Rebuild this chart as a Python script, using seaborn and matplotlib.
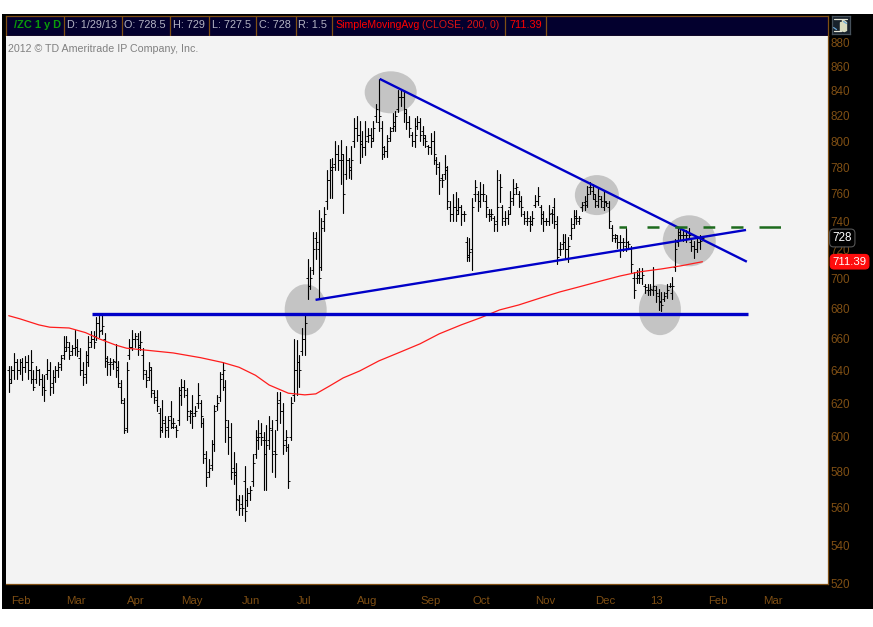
import pandas as pd
import numpy as np
import seaborn as sns
import matplotlib.pyplot as plt
from matplotlib.collections import EllipseCollection
from matplotlib.ticker import NullLocator

bar_high = [643,643,651,647,647,648,649,650,653,640,
    643,641,638,637,647,645,640,643,645,650,
    662,662,658,656,666,660,654,645,652,662,
    665,665,674,675,676,664,649,648,647,657,
    646,634,623,645,660,666,664,664,665,654,
    640,645,642,628,628,617,622,612,612,621,
    611,607,630,635,634,629,616,625,618,632,
    622,611,592,587,598,619,625,639,645,634,
    610,608,591,585,567,567,583,571,572,590,
    604,610,608,603,607,612,610,604,627,627,
    620,604,596,624,660,659,650,667,677,713,
    708,732,732,748,742,750,778,786,787,800,
    797,801,790,796,787,796,818,820,816,808,
    816,810,810,816,829,850,816,796,805,811,
    822,824,841,841,841,825,820,807,818,820,
    818,812,805,797,806,808,788,784,775,789,
    781,755,760,761,757,752,747,729,728,757,
    770,762,769,767,759,749,749,744,778,775,
    752,747,748,762,771,768,762,758,747,747,
    744,747,759,765,752,747,742,752,749,757,
    744,725,731,731,729,742,748,748,744,754,
    758,766,769,767,760,764,758,762,755,755,
    737,731,730,730,728,735,726,722,704,706,
    707,707,696,696,696,708,695,693,691,691,
    696,697,701,727,736,735,734,734,735,727,
    726,729,730,729]
bar_low = [627,632,635,635,638,634,639,635,632,628,
    632,631,625,621,635,625,626,633,636,640,
    647,652,647,650,650,649,637,631,632,643,
    655,654,659,661,663,642,637,637,641,636,
    630,620,602,603,647,653,655,650,653,635,
    630,634,624,620,615,600,603,600,600,605,
    605,600,607,619,624,610,608,605,612,617,
    606,585,572,577,581,592,616,621,628,597,
    590,576,573,559,556,556,553,561,564,572,
    588,593,595,570,570,593,580,577,604,608,
    590,592,571,598,621,625,630,650,650,686,
    693,703,713,686,706,733,749,757,757,778,
    778,767,746,771,772,771,795,800,783,788,
    789,799,795,800,815,808,786,788,788,800,
    808,808,823,828,815,809,803,796,795,809,
    800,797,795,790,790,782,775,760,765,771,
    749,740,740,740,745,737,740,712,712,706,
    755,747,750,755,743,740,741,733,733,754,
    737,737,738,745,752,760,750,744,738,737,
    733,737,750,752,738,733,737,737,739,735,
    710,716,720,713,711,727,735,738,738,747,
    748,750,760,756,750,750,750,748,751,735,
    726,725,721,715,719,719,721,704,687,697,
    697,696,690,689,689,689,684,679,678,685,
    687,694,686,705,722,727,726,725,727,719,
    714,718,720,727.5]
bar_open = [640,635,640,645,640,645,642,645,640,635,
    635,640,635,630,638,640,632,636,640,644,
    650,655,655,652,654,655,648,640,638,650,
    658,660,662,670,666,660,646,644,644,645,
    640,630,620,605,650,655,660,660,655,650,
    638,636,640,626,622,614,606,608,606,612,
    606,606,610,628,630,625,612,615,614,620,
    620,608,588,580,584,596,618,624,638,630,
    606,600,582,580,564,562,575,564,568,575,
    590,600,602,598,598,598,604,592,610,622,
    615,598,594,600,625,640,645,652,660,700,
    695,706,728,720,708,740,755,770,778,782,
    790,785,785,775,785,778,800,810,805,798,
    795,804,805,802,820,815,810,790,792,802,
    810,812,825,835,835,822,815,805,800,812,
    815,808,802,796,795,800,785,780,772,775,
    778,750,745,750,748,750,745,725,716,720,
    760,760,755,760,755,745,744,742,740,770,
    750,740,742,750,757,764,760,755,745,740,
    740,740,752,755,750,742,740,740,746,750,
    738,720,724,725,720,730,738,744,740,750,
    754,755,765,762,756,752,756,750,754,750,
    735,728,728,725,725,722,725,720,700,700,
    700,700,695,692,692,692,692,688,684,686,
    690,695,690,708,725,732,730,730,728,725,
    722,720,725,728.5]
bar_close = [632,640,645,640,645,642,645,640,645,630,
    640,635,630,628,640,630,636,640,642,648,
    652,658,650,654,655,652,640,636,645,655,
    660,658,670,665,668,648,645,645,646,642,
    632,622,604,640,655,660,662,656,658,640,
    634,642,628,624,618,604,610,604,610,608,
    608,604,625,630,628,615,614,612,615,625,
    612,590,577,582,596,615,620,635,640,610,
    600,580,578,565,560,560,558,568,570,585,
    598,600,600,590,595,605,590,590,620,615,
    595,600,575,620,640,645,640,660,670,695,
    700,720,725,700,735,745,770,780,780,790,
    785,790,760,785,780,785,810,805,800,795,
    800,805,800,810,825,820,795,792,800,808,
    815,820,835,835,825,815,810,800,805,815,
    805,805,800,795,800,790,782,770,770,780,
    755,745,750,745,750,745,745,715,718,750,
    765,755,760,760,750,745,745,738,750,765,
    742,742,745,755,760,765,755,750,742,742,
    738,742,755,758,745,740,740,745,745,740,
    715,720,725,720,722,735,742,742,742,752,
    752,760,765,760,755,758,755,755,753,740,
    730,730,725,725,725,725,724,710,692,702,
    700,702,694,692,693,695,690,685,682,688,
    692,695,695,720,730,730,730,730,730,722,
    720,725,726,728]

sma_bar = [0,4,11,15,22,28,33,39,43,51,60,70,78,84,90,95,102,108,112,117,122,128,
    135,143,150,157,165,172,179,186,194,201,208,216,223,230,238,245,253]
sma_value = [675,673,669,667.5,667,664,660,656,654,652.6,651,648,645,642,637,631,626,625,625.6,630.4,635.4,639.7,
    646,651.7,656.8,663.2,669,673.6,678.8,682.1,686.8,690.8,694.2,698.2,701.6,704.4,706.4,708.5,711.39]

price_ticks = list(range(520, 881, 20))
month_bars = [1,21,43,63,85,105,127,150,169,192,214,234,255,275]
month_labels = ["Feb","Mar","Apr","May","Jun","Jul","Aug","Sep","Oct","Nov","Dec","13","Feb","Mar"]

# hand drawn notes on the chart
circle_bar = [139.3,108.3,214.5,248.2,237.5]
circle_price = [838.8,678.9,759,726,679]
circle_w = [52,42,44,53,42]
circle_h = [42,51,40,51,51]
support_bar = [30.2,269.6]
support_price = [676,676]
falling_bar = [135.3,269.2]
falling_price = [849.8,711.4]
rising_bar = [111.9,268.9]
rising_price = [685.5,733.7]
resist_bar = [222.5,281.6]
resist_price = [735.8,735.8]

header_cells = [("D: 1/29/13",67,121.7),("O: 728.5",124.5,170),("H: 729",173,209),("L: 727.5",212,256),
    ("C: 728",259,295.7),("R: 1.5",298.5,331.7)]

W, H = 873, 627
BROWN = "#7f4f14"
NAVY = "#03002e"
BLUE = "#0000c8"


def box(x0, y0, x1, y1):
    return [x0 / W, 1 - y1 / H, (x1 - x0) / W, (y1 - y0) / H]


sns.set_style("white")
plt.rcParams["font.family"] = ["Liberation Sans", "DejaVu Sans"]

fig = plt.figure(figsize=(W / 100, H / 100), dpi=100, facecolor="white")

# black frame round everything
back = fig.add_axes(box(2, 14, 873, 609), facecolor="black")
back.set_xticks([])
back.set_yticks([])
for s in back.spines.values():
    s.set_visible(False)

# header strip
head = fig.add_axes(box(6, 15.5, 828, 35.5), facecolor=NAVY)
head.set_xlim(6, 828)
head.set_ylim(35.5, 15.5)
head.set_xticks([])
head.set_yticks([])
for s in head.spines.values():
    s.set_color(BROWN)
    s.set_linewidth(0.9)
head.text(14, 25, "/ZC 1 y D", color="#0a9a0a", fontsize=7.9, fontweight="bold", va="center")
for label, x0, x1 in header_cells:
    head.text(x0, 25, label, color="#b4b4c4", fontsize=7.8, va="center")
    head.axvline(x1, color=BROWN, lw=0.9)
head.axvline(64.3, color=BROWN, lw=0.9)
head.text(335, 25, "SimpleMovingAvg", color="#ff0000", fontsize=7.6, va="center")
head.text(422, 25, "(CLOSE, 200, 0)", color="#d81414", fontsize=7.6, va="center")
head.axvline(505, color=BROWN, lw=0.9)
head.text(509, 25, "711.39", color="#ff0000", fontsize=7.8, va="center")
head.axvline(546, color=BROWN, lw=0.9)

# main panel
ax = fig.add_axes(box(6, 36, 828, 584), facecolor="#f3f3f3")

bars = pd.DataFrame({"high": bar_high, "low": bar_low, "open": bar_open, "close": bar_close})
bars["bar"] = np.arange(len(bars))
long_bars = bars.melt(id_vars="bar", value_vars=["high", "low"], value_name="price")

sns.lineplot(data=long_bars, x="bar", y="price", units="bar", estimator=None,
             color="black", lw=0.82, sort=False, legend=False, ax=ax, zorder=3)
ax.plot(bars["bar"], bars["open"], ls="", marker=0, ms=1.1, mew=0.65, color="black", zorder=3)
ax.plot(bars["bar"], bars["close"], ls="", marker=1, ms=1.1, mew=0.65, color="black", zorder=3)

sma = pd.DataFrame({"bar": sma_bar, "value": sma_value})
sns.lineplot(data=sma, x="bar", y="value", color="#ff1c1c", lw=0.9, legend=False, ax=ax, zorder=4)

circles = EllipseCollection(circle_w, circle_h, np.zeros(len(circle_w)), units="dots",
                            offsets=list(zip(circle_bar, circle_price)), offset_transform=ax.transData,
                            facecolors="#c4c4c4", edgecolors="none", zorder=1)
ax.add_collection(circles, autolim=False)

ax.plot(support_bar, support_price, color=BLUE, lw=2.4, solid_capstyle="butt", zorder=5)
ax.plot(falling_bar, falling_price, color=BLUE, lw=1.7, solid_capstyle="butt", zorder=5)
ax.plot(rising_bar, rising_price, color=BLUE, lw=1.7, solid_capstyle="butt", zorder=5)
ax.plot(resist_bar, resist_price, color="#1d6b1d", lw=1.8, dash_capstyle="butt", zorder=5,
        dashes=(3, 8.2, 4.8, 6.3, 4.9, 6.4, 4.7, 6.4, 4.9, 6.4, 8.6, 20))

ax.set_yscale("log")
ax.set_xlim(-1.0, 298.8)
ax.set_ylim(520, 886)
ax.set_xlabel("")
ax.set_ylabel("")

ax.yaxis.tick_right()
ax.set_yticks(price_ticks)
ax.set_yticklabels([str(p) for p in price_ticks])
ax.yaxis.set_minor_locator(NullLocator())
ax.tick_params(axis="y", length=0, pad=1.5, labelsize=8.4, labelcolor=BROWN, right=False)
ax.set_xticks(month_bars)
ax.set_xticklabels(month_labels, ha="left")
ax.tick_params(axis="x", length=0, pad=8.3, labelsize=8.2, labelcolor=BROWN, bottom=False)

for side in ["top", "left"]:
    ax.spines[side].set_visible(False)
for side in ["right", "bottom"]:
    ax.spines[side].set_color(BROWN)
    ax.spines[side].set_linewidth(0.9)

ax.text(0.0025, 0.977, "2012 \u00a9 TD Ameritrade IP Company, Inc.", transform=ax.transAxes,
        color="#808080", fontsize=7.7, va="center", ha="left")

# last price and sma flags on the scale
flag = ax.get_yaxis_transform()
ax.text(1.0055, bar_close[-1], "728", transform=flag, color="white", fontsize=8.4, va="center", ha="left",
        clip_on=False, zorder=8,
        bbox=dict(boxstyle="round,pad=0.25,rounding_size=0.35", fc="black", ec="#555555", lw=0.8))
ax.text(1.0055, sma_value[-1], "711.39", transform=flag, color="white", fontsize=8.2, va="center", ha="left",
        clip_on=False, zorder=8,
        bbox=dict(boxstyle="round,pad=0.2,rounding_size=0.35", fc="#ff0d0d", ec="#ff0d0d", lw=0.8))

# little hand button top right
icon = fig.add_axes(box(831.5, 15.5, 849.5, 33.5), facecolor="#18222c")
icon.set_xlim(0, 18)
icon.set_ylim(18, 0)
icon.set_xticks([])
icon.set_yticks([])
for s in icon.spines.values():
    s.set_color("#47525c")
    s.set_linewidth(0.9)
icon.plot([2, 15], [3, 3], color="#e8e8d8", lw=0.9)
icon.plot([2, 9], [15, 15], color="#e8e8d8", lw=0.9)
icon.plot([2, 5], [12, 14], color="#6aa8d8", lw=0.9)
icon.plot([12, 15], [6, 8], color="#6aa8d8", lw=0.9)
icon.fill([9, 9, 11, 11, 15, 15, 13, 9], [10, 7, 7, 4, 7, 15, 16, 15], color="#d8dcc0")

fig.savefig("out.png", dpi=100)
